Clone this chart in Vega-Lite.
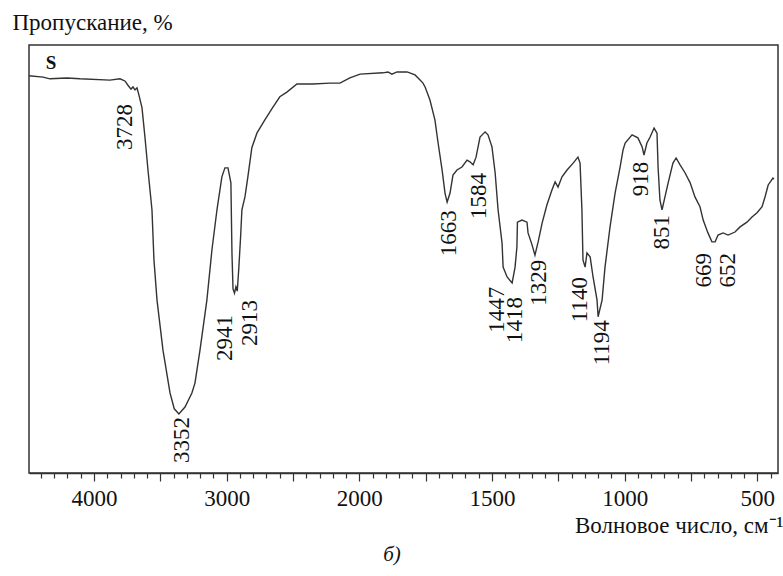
{
  "$schema": "https://vega.github.io/schema/vega-lite/v6.json",
  "width": 749,
  "height": 428,
  "autosize": "none",
  "padding": {"left": 29, "top": 45, "right": 5, "bottom": 103},
  "background": "white",
  "config": {
    "view": {"stroke": "#333", "strokeWidth": 1.5},
    "font": "Liberation Serif"
  },
  "datasets": {
    "curve": [
      {"x": 4490, "y": 92.8}, {"x": 4384, "y": 92.5}, {"x": 4332, "y": 92.1}, {"x": 4204, "y": 92.3},
      {"x": 4106, "y": 92.1}, {"x": 3880, "y": 91.8}, {"x": 3804, "y": 92.1}, {"x": 3767, "y": 91.6},
      {"x": 3744, "y": 90.6}, {"x": 3721, "y": 89.7}, {"x": 3706, "y": 90.2}, {"x": 3691, "y": 89.5},
      {"x": 3676, "y": 90.0}, {"x": 3661, "y": 88.3}, {"x": 3638, "y": 85.3}, {"x": 3616, "y": 78.5},
      {"x": 3593, "y": 70.8}, {"x": 3563, "y": 61.5}, {"x": 3548, "y": 49.8}, {"x": 3525, "y": 40.4},
      {"x": 3480, "y": 28.7}, {"x": 3427, "y": 18.7}, {"x": 3395, "y": 15.0}, {"x": 3360, "y": 13.8},
      {"x": 3314, "y": 15.4}, {"x": 3262, "y": 18.7}, {"x": 3239, "y": 21.0}, {"x": 3201, "y": 28.7},
      {"x": 3149, "y": 40.4}, {"x": 3111, "y": 52.1}, {"x": 3073, "y": 61.5}, {"x": 3036, "y": 69.2},
      {"x": 3013, "y": 71.3}, {"x": 2990, "y": 71.3}, {"x": 2968, "y": 67.8}, {"x": 2960, "y": 51.4},
      {"x": 2952, "y": 43.0}, {"x": 2941, "y": 42.0}, {"x": 2930, "y": 43.5}, {"x": 2920, "y": 42.5},
      {"x": 2908, "y": 48.0}, {"x": 2895, "y": 55.1}, {"x": 2885, "y": 61.5}, {"x": 2862, "y": 64.5},
      {"x": 2840, "y": 69.2}, {"x": 2810, "y": 76.0}, {"x": 2772, "y": 79.4}, {"x": 2712, "y": 82.5},
      {"x": 2651, "y": 85.5}, {"x": 2599, "y": 87.9}, {"x": 2546, "y": 89.0}, {"x": 2470, "y": 90.9},
      {"x": 2350, "y": 90.9}, {"x": 2222, "y": 91.1}, {"x": 2146, "y": 91.1}, {"x": 2071, "y": 92.3},
      {"x": 1997, "y": 93.2}, {"x": 1911, "y": 93.5}, {"x": 1892, "y": 93.7}, {"x": 1877, "y": 93.2},
      {"x": 1858, "y": 93.7}, {"x": 1820, "y": 93.7}, {"x": 1790, "y": 93.0}, {"x": 1771, "y": 91.8},
      {"x": 1760, "y": 91.1}, {"x": 1752, "y": 90.2}, {"x": 1734, "y": 87.2}, {"x": 1715, "y": 82.5},
      {"x": 1703, "y": 77.1}, {"x": 1688, "y": 70.8}, {"x": 1677, "y": 65.4}, {"x": 1669, "y": 63.3},
      {"x": 1658, "y": 65.4}, {"x": 1647, "y": 69.6}, {"x": 1632, "y": 70.8}, {"x": 1613, "y": 71.5},
      {"x": 1594, "y": 73.1}, {"x": 1583, "y": 72.7}, {"x": 1571, "y": 72.0}, {"x": 1560, "y": 73.8},
      {"x": 1545, "y": 78.5}, {"x": 1526, "y": 79.7}, {"x": 1515, "y": 79.0}, {"x": 1500, "y": 76.2},
      {"x": 1488, "y": 70.1}, {"x": 1477, "y": 61.5}, {"x": 1462, "y": 53.7}, {"x": 1458, "y": 48.1},
      {"x": 1443, "y": 45.8}, {"x": 1424, "y": 44.4}, {"x": 1413, "y": 48.1}, {"x": 1406, "y": 52.8},
      {"x": 1404, "y": 58.6}, {"x": 1387, "y": 59.1}, {"x": 1368, "y": 58.6}, {"x": 1364, "y": 56.1},
      {"x": 1349, "y": 53.3}, {"x": 1338, "y": 50.9}, {"x": 1326, "y": 54.0}, {"x": 1311, "y": 58.4},
      {"x": 1293, "y": 62.6}, {"x": 1274, "y": 66.1}, {"x": 1262, "y": 68.0}, {"x": 1251, "y": 66.8},
      {"x": 1236, "y": 69.2}, {"x": 1217, "y": 70.8}, {"x": 1194, "y": 72.4}, {"x": 1176, "y": 73.8},
      {"x": 1168, "y": 72.4}, {"x": 1161, "y": 61.5}, {"x": 1157, "y": 49.8}, {"x": 1149, "y": 48.1},
      {"x": 1142, "y": 51.4}, {"x": 1130, "y": 50.5}, {"x": 1119, "y": 45.8}, {"x": 1104, "y": 40.4},
      {"x": 1100, "y": 36.5}, {"x": 1085, "y": 40.4}, {"x": 1074, "y": 48.1}, {"x": 1055, "y": 57.5},
      {"x": 1036, "y": 65.4}, {"x": 1017, "y": 71.5}, {"x": 1006, "y": 75.5}, {"x": 998, "y": 77.1},
      {"x": 972, "y": 79.0}, {"x": 950, "y": 78.3}, {"x": 934, "y": 76.2}, {"x": 927, "y": 74.3},
      {"x": 916, "y": 77.1}, {"x": 904, "y": 78.5}, {"x": 889, "y": 80.6}, {"x": 878, "y": 79.4},
      {"x": 874, "y": 71.5}, {"x": 867, "y": 63.8}, {"x": 859, "y": 61.5}, {"x": 848, "y": 64.5},
      {"x": 836, "y": 67.8}, {"x": 818, "y": 72.4}, {"x": 806, "y": 73.6}, {"x": 791, "y": 72.0},
      {"x": 772, "y": 70.1}, {"x": 753, "y": 67.8}, {"x": 735, "y": 64.5}, {"x": 716, "y": 62.2},
      {"x": 704, "y": 59.1}, {"x": 686, "y": 56.1}, {"x": 671, "y": 54.0}, {"x": 659, "y": 54.0},
      {"x": 648, "y": 55.6}, {"x": 629, "y": 56.1}, {"x": 610, "y": 55.6}, {"x": 584, "y": 56.3},
      {"x": 565, "y": 57.5}, {"x": 539, "y": 58.6}, {"x": 520, "y": 59.8}, {"x": 501, "y": 60.8},
      {"x": 482, "y": 62.2}, {"x": 471, "y": 64.5}, {"x": 459, "y": 67.3}, {"x": 441, "y": 68.9},
      {"x": 437, "y": 68.7}
    ],
    "peaks": [
      {"x": 3767, "y": 86.2, "txt": "3728"},
      {"x": 3337, "y": 13.1, "txt": "3352"},
      {"x": 3013, "y": 36.9, "txt": "2941"},
      {"x": 2825, "y": 40.4, "txt": "2913"},
      {"x": 1662, "y": 61.4, "txt": "1663"},
      {"x": 1549, "y": 70.1, "txt": "1584"},
      {"x": 1481, "y": 43.5, "txt": "1447"},
      {"x": 1413, "y": 41.1, "txt": "1418"},
      {"x": 1323, "y": 49.8, "txt": "1329"},
      {"x": 1168, "y": 45.8, "txt": "1140"},
      {"x": 1085, "y": 35.7, "txt": "1194"},
      {"x": 938, "y": 72.7, "txt": "918"},
      {"x": 859, "y": 60.3, "txt": "851"},
      {"x": 701, "y": 51.4, "txt": "669"},
      {"x": 610, "y": 51.4, "txt": "652"}
    ],
    "sample": [{"x": 4324, "y": 95.8, "txt": "S"}],
    "panel": [{"x": 1877, "y": -19.2, "txt": "б)"}]
  },
  "encoding": {
    "x": {
      "field": "x", "type": "quantitative",
      "scale": {"domain": [4490, 2000, 422], "range": [0, 330.3, 749], "zero": false, "nice": false},
      "axis": {
        "values": [4400,4300,4200,4100,4000,3900,3800,3700,3600,3500,3400,3300,3200,3100,3000,2900,2800,2700,2600,2500,2400,2300,2200,2100,2000,1950,1900,1850,1800,1750,1700,1650,1600,1550,1500,1450,1400,1350,1300,1250,1200,1150,1100,1050,1000,950,900,850,800,750,700,650,600,550,500,450],
        "format": "d",
        "labelExpr": "indexof([4000,3000,2000,1500,1000,500], datum.value) >= 0 ? datum.label : ''",
        "tickSize": {"condition": {"test": "indexof([4000,3500,3000,2500,2000,1750,1500,1250,1000,750,500], datum.value) >= 0", "value": 8}, "value": 5},
        "labelOverlap": false,
        "labelFlush": false,
        "labelFont": "Liberation Serif",
        "labelFontSize": 23,
        "labelColor": "#111",
        "labelBaseline": "alphabetic",
        "labelPadding": 24,
        "tickColor": "#333",
        "tickWidth": 1.2,
        "domainColor": "#333",
        "domainWidth": 1.5,
        "grid": false,
        "title": "Волновое число, см⁻¹",
        "titleFont": "Liberation Serif",
        "titleFontSize": 23,
        "titleFontWeight": "normal",
        "titleColor": "#111",
        "titleAlign": "right",
        "titleAnchor": "end",
        "titleBaseline": "alphabetic",
        "titleX": 754,
        "titleY": 59
      }
    },
    "y": {
      "field": "y", "type": "quantitative",
      "scale": {"domain": [0, 100], "zero": false, "nice": false},
      "axis": {
        "domain": false, "ticks": false, "labels": false, "grid": false,
        "title": "Пропускание, %",
        "titleFont": "Liberation Serif",
        "titleFontSize": 23,
        "titleFontWeight": "normal",
        "titleColor": "#111",
        "titleAngle": 0,
        "titleAlign": "left",
        "titleBaseline": "alphabetic",
        "titleX": -17,
        "titleY": -16
      }
    }
  },
  "layer": [
    {
      "data": {"name": "curve"},
      "mark": {"type": "line", "color": "#333", "strokeWidth": 1.4, "interpolate": "linear"}
    },
    {
      "data": {"name": "peaks"},
      "mark": {"type": "text", "angle": 270, "align": "right", "baseline": "middle", "font": "Liberation Serif", "fontSize": 23, "color": "#111"},
      "encoding": {"text": {"field": "txt"}}
    },
    {
      "data": {"name": "sample"},
      "mark": {"type": "text", "align": "center", "baseline": "middle", "font": "Liberation Serif", "fontSize": 19, "fontWeight": "bold", "color": "#111"},
      "encoding": {"text": {"field": "txt"}}
    },
    {
      "data": {"name": "panel"},
      "mark": {"type": "text", "align": "center", "baseline": "middle", "font": "Liberation Serif", "fontSize": 21, "fontStyle": "italic", "color": "#111", "clip": false},
      "encoding": {"text": {"field": "txt"}}
    }
  ]
}
